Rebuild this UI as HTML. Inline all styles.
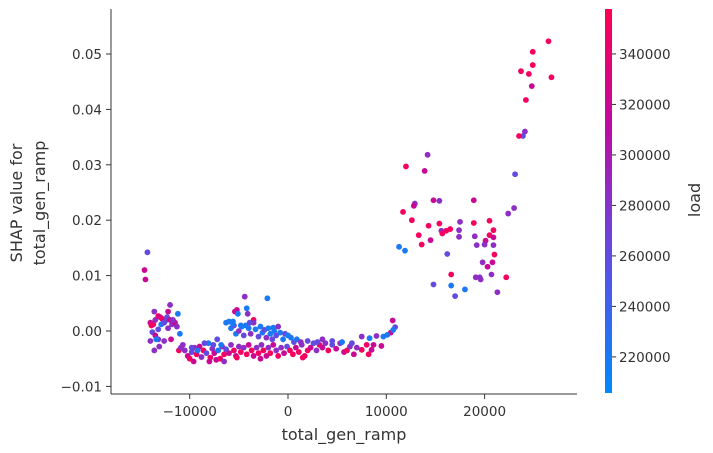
<!DOCTYPE html>
<html><head><meta charset="utf-8"><style>
body{margin:0;background:#fff;}
svg{display:block;font-family:"DejaVu Sans","Liberation Sans",sans-serif;}
</style></head><body>
<svg id="chart" width="713" height="453" viewBox="0 0 713 453">
<defs><linearGradient id="cg" x1="0" y1="1" x2="0" y2="0">
<stop offset="0" stop-color="rgb(0,138,251)"/><stop offset="0.33" stop-color="rgb(90,80,230)"/>
<stop offset="0.5" stop-color="rgb(135,50,200)"/><stop offset="0.7" stop-color="rgb(190,10,160)"/>
<stop offset="1" stop-color="rgb(255,0,82)"/></linearGradient></defs>
<g id="points"></g>
<g id="axes"></g>
<rect x="605" y="9" width="7" height="384" fill="url(#cg)"/>
<text transform="translate(22,203) rotate(-90)" text-anchor="middle" font-size="16" fill="#333">SHAP value for</text>
<text transform="translate(45,203) rotate(-90)" text-anchor="middle" font-size="16" fill="#333">total_gen_ramp</text>
<text x="344" y="440" text-anchor="middle" font-size="16" fill="#333">total_gen_ramp</text>
<text transform="translate(700,200) rotate(-90)" text-anchor="middle" font-size="16" fill="#333">load</text>
</svg>
<script>
const xTicks=[-10000,0,10000,20000];
const yTicks=[-0.01,0.00,0.01,0.02,0.03,0.04,0.05];
const yTickLabels=["\u22120.01","0.00","0.01","0.02","0.03","0.04","0.05"];
const xTickLabels=["\u221210000","0","10000","20000"];
const cTicks=[220000,240000,260000,280000,300000,320000,340000];
const xVals=[26500,24900,24900,23700,24500,26800,24800,24200,24100,23900,23500,14200,12000,13900,23100,12900,12800,14800,15400,18900,11700,23000,22400,12600,14300,15400,17500,18900,20500,13300,15600,15700,16100,16500,17400,17400,19000,20500,20900,20900,13600,14500,11300,11900,19200,20100,20000,20900,16200,21000,19800,20300,20800,16600,19100,19500,19600,20700,22200,14800,16600,17000,18000,21300,10650,10900,10450,10700,10100,7500,8300,9000,9700,8000,8700,9500,8200,7500,8500,
-14300,-14600,-14500,-12000,-13600,-11200,-5400,-4400,-2100,-4200,-5200,-5100,-4100,-3500,-5600,
-14000,-13700,-13500,-13200,-13000,-12800,-12500,-12300,-12000,-11800,-11500,-11300,-13800,-13500,-13200,-12900,-12600,-12200,-11700,-14000,-13200,-13100,-12600,-11900,-11000,-11100,-10900,-13600,-12200,-13900,-13400,
-10500,-10200,-10000,-9800,-9500,-9300,-9000,-8800,-8600,-8300,-8100,-7900,-7700,-7500,-7300,-7100,-6900,-6700,-6500,-6300,-6000,-5800,-5500,-5300,-5000,-4800,-4500,-4200,-4000,-3700,-3500,-3200,-3000,-2700,-2500,-2200,-2000,-1800,-1500,-1200,-1000,-700,-400,-100,200,500,800,1100,1400,1700,2000,2300,2600,2900,3200,3500,3800,4100,4500,4900,5300,5700,6000,6300,6700,7000,-9600,-8000,-6500,-5200,-2800,1500,-10700,-9200,-7600,
-6300,-6000,-5800,-5500,-5300,-5000,-4700,-4500,-4300,-4000,-3800,-3500,-3300,-3000,-2800,-2600,-2400,-2200,-2000,-1800,-1600,-1400,-1200,-1000,-800,-500,-300,0,300,600,900,1300,2000,3000,3500,4500,5500,6500,-6800,-7200,-8500,-9800,-5600,-4800,-3900,-1500];
const yVals=[0.0523,0.0504,0.048,0.0469,0.0464,0.0458,0.0442,0.0417,0.036,0.0352,0.0352,0.0318,0.0297,0.0289,0.0283,0.023,0.0226,0.0236,0.0235,0.0236,0.0215,0.0222,0.0212,0.02,0.019,0.0194,0.0197,0.0195,0.0199,0.0173,0.0181,0.0176,0.0181,0.0184,0.0182,0.017,0.0171,0.0173,0.0182,0.0169,0.0156,0.0164,0.0152,0.0145,0.0155,0.0163,0.0156,0.0155,0.0139,0.0138,0.0124,0.0116,0.0124,0.0102,0.0097,0.0097,0.0093,0.0102,0.0097,0.0084,0.0082,0.0063,0.0075,0.007,0.0019,0.0007,-0.0003,0.0002,-0.0007,-0.001,-0.0013,-0.0009,-0.001,-0.0025,-0.0025,-0.0027,-0.0042,-0.0034,-0.0034,
0.0142,0.011,0.0093,0.0047,0.0035,0.0031,0.0035,0.0062,0.0059,0.0041,0.0038,0.0031,0.0031,0.002,0.0017,
0.0015,0.0012,0.002,0.0027,0.0025,0.0022,0.0018,0.0025,0.002,0.0012,0.0015,0.0008,-0.0002,-0.0008,0.0003,0.0012,0.0015,0.0005,0.002,-0.0018,-0.0015,-0.0028,-0.0018,-0.0015,-0.0005,-0.0035,-0.003,-0.0035,0.0035,0.001,-0.0015,
-0.0035,-0.0045,-0.005,-0.0038,-0.003,-0.0042,-0.0028,-0.0047,-0.0035,-0.004,-0.0022,-0.0048,-0.0032,-0.004,-0.0052,-0.0035,-0.005,-0.0028,-0.0042,-0.0033,-0.004,-0.0025,-0.0035,-0.0045,-0.0028,-0.0038,-0.003,-0.0042,-0.0025,-0.0035,-0.0045,-0.003,-0.004,-0.0025,-0.0035,-0.0045,-0.003,-0.004,-0.0025,-0.0035,-0.0045,-0.003,-0.004,-0.0028,-0.0035,-0.0042,-0.003,-0.0038,-0.0025,-0.0045,-0.0035,-0.003,-0.0022,-0.0035,-0.0025,-0.003,-0.0022,-0.0035,-0.0025,-0.0032,-0.0022,-0.0038,-0.0035,-0.0028,-0.0042,-0.003,-0.0055,-0.0055,-0.0055,-0.0048,-0.005,-0.0048,-0.0025,-0.0035,-0.0025,
0.0015,0.0017,0.0005,0.001,-0.0005,0,0.0008,-0.0008,0.001,0.0005,-0.0005,0.0015,0.0003,-0.001,0.0008,-0.0003,0.0002,-0.0012,0.0005,-0.0005,-0.0015,0,-0.0008,0.0008,-0.0003,-0.0015,-0.0005,-0.0008,-0.0012,-0.002,-0.0015,-0.002,-0.0018,-0.002,-0.0015,-0.0018,-0.002,-0.0022,-0.0025,-0.0015,-0.0022,-0.003,0.0013,0.001,0.0015,0.0006];
const loadVals=[350000,350000,350000,350000,350000,350000,320000,350000,285000,260000,350000,285000,350000,320000,260000,285000,320000,320000,285000,320000,350000,285000,285000,350000,350000,350000,285000,350000,350000,350000,285000,350000,350000,350000,285000,285000,285000,350000,350000,320000,350000,320000,220000,220000,285000,320000,285000,285000,260000,350000,285000,320000,320000,350000,285000,285000,285000,285000,350000,260000,220000,260000,220000,285000,320000,260000,320000,220000,220000,285000,220000,285000,220000,350000,320000,320000,350000,350000,320000,
260000,320000,320000,285000,285000,220000,320000,285000,220000,220000,320000,220000,285000,350000,220000,
320000,350000,285000,350000,320000,350000,285000,260000,320000,285000,320000,285000,260000,320000,260000,220000,260000,285000,285000,285000,285000,285000,285000,320000,220000,350000,285000,285000,320000,350000,220000,
285000,320000,350000,260000,285000,350000,320000,285000,350000,260000,220000,350000,285000,320000,320000,220000,350000,285000,350000,260000,320000,285000,350000,320000,285000,350000,285000,350000,320000,350000,320000,285000,350000,285000,350000,320000,285000,350000,320000,285000,350000,285000,320000,260000,350000,350000,320000,350000,285000,350000,350000,320000,260000,285000,350000,320000,285000,350000,260000,320000,285000,320000,350000,285000,320000,285000,320000,320000,285000,350000,320000,350000,285000,220000,260000,
220000,220000,220000,260000,220000,285000,220000,260000,220000,220000,285000,285000,220000,260000,220000,220000,260000,285000,220000,220000,260000,220000,260000,285000,220000,220000,260000,220000,220000,260000,220000,285000,260000,260000,285000,260000,220000,260000,220000,260000,260000,260000,220000,220000,260000,220000];

const X=v=>288+v*98.3/10000;
const Y=v=>331-v*5540;
const cMin=205700,cMax=357800;
const C=v=>393-(v-cMin)/(cMax-cMin)*384;
const stops=[[0,[0,138,251]],[0.33,[90,80,230]],[0.5,[135,50,200]],[0.7,[190,10,160]],[1,[255,0,82]]];
function col(v){let t=Math.max(0,Math.min(1,(v-cMin)/(cMax-cMin)));
for(let i=1;i<stops.length;i++){if(t<=stops[i][0]){const a=stops[i-1],b=stops[i];const f=(t-a[0])/(b[0]-a[0]);
return 'rgb('+a[1].map((c,k)=>Math.round(c+(b[1][k]-c)*f)).join(',')+')';}}return 'rgb(255,0,82)';}
const NS='http://www.w3.org/2000/svg';
function mk(tag,attrs,parent){const e=document.createElementNS(NS,tag);for(const k in attrs)e.setAttribute(k,attrs[k]);parent.appendChild(e);return e;}
const pg=document.getElementById('points');
for(let i=0;i<xVals.length;i++){
const c=mk('circle',{cx:X(xVals[i]),cy:Y(yVals[i]),r:2.9,fill:col(loadVals[i])},pg);

}
const ax=document.getElementById('axes');
const ys=mk('line',{x1:111,y1:9,x2:111,y2:394,stroke:'#333','stroke-width':1},ax);


const xs=mk('line',{x1:111,y1:394,x2:577,y2:394,stroke:'#333','stroke-width':1},ax);


yTicks.forEach((v,i)=>{const y=Y(v);
mk('line',{x1:106,y1:y,x2:111,y2:y,stroke:'#333'},ax);
const t=mk('text',{x:102,y:y+5,'text-anchor':'end','font-size':13.5,fill:'#333'},ax);t.textContent=yTickLabels[i];

});
xTicks.forEach((v,i)=>{const x=X(v);
mk('line',{x1:x,y1:394,x2:x,y2:399,stroke:'#333'},ax);
const t=mk('text',{x:x,y:416,'text-anchor':'middle','font-size':13.5,fill:'#333'},ax);t.textContent=xTickLabels[i];

});
cTicks.forEach(v=>{const y=C(v);
mk('line',{x1:612,y1:y,x2:616,y2:y,stroke:'#333'},ax);
const t=mk('text',{x:619,y:y+5,'font-size':13.5,fill:'#333'},ax);t.textContent=String(v);

});
</script>
</body></html>
